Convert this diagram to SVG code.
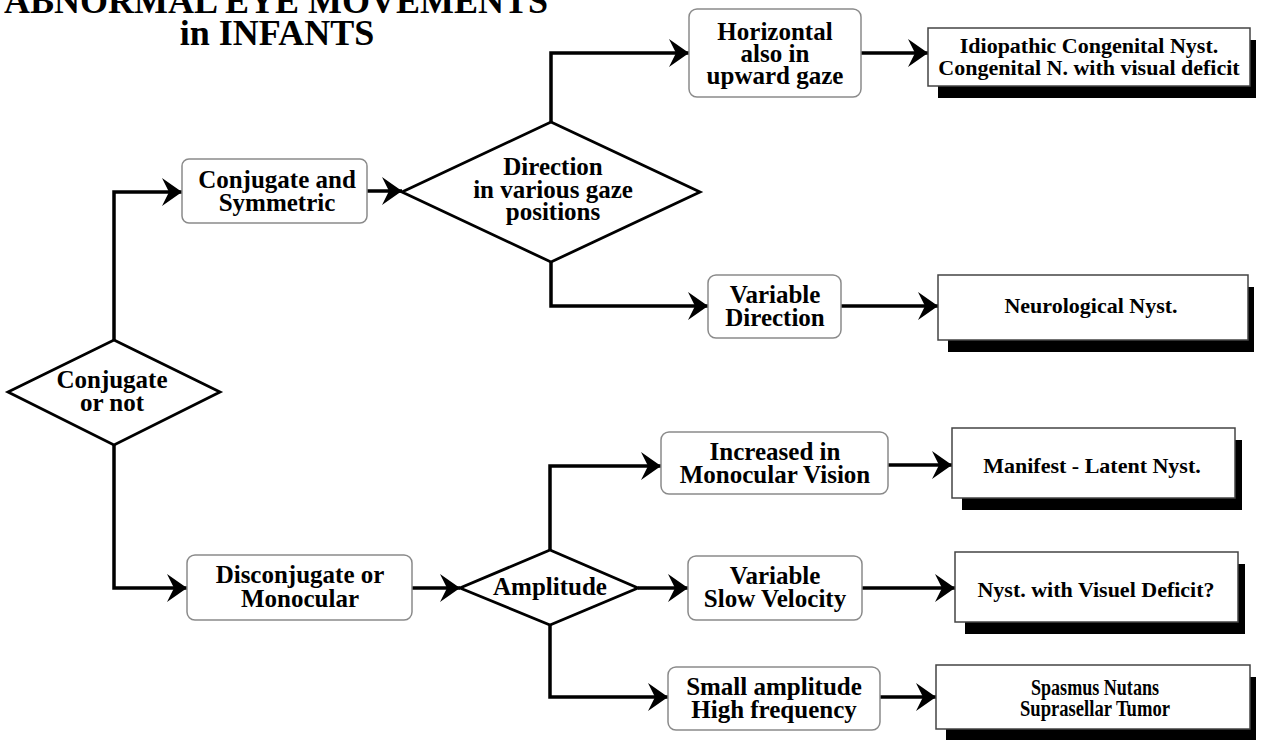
<svg xmlns="http://www.w3.org/2000/svg" width="1267" height="740" viewBox="0 0 1267 740">
<style>
text{font-family:"Liberation Serif","Times New Roman",serif;font-weight:bold;fill:#000;text-anchor:middle}
.t{font-size:36px}
.n{font-size:25px}
.r{font-size:22px}
.rb{fill:#fff;stroke:#8a8a8a;stroke-width:1.5}
.dm{fill:#fff;stroke:#000;stroke-width:2.8;stroke-linejoin:miter}
.res{fill:#fff;stroke:#444;stroke-width:1.5}
.sh{fill:#000}
.c{fill:none;stroke:#000;stroke-width:3.5;marker-end:url(#arr)}
</style>
<defs>
<marker id="arr" markerUnits="userSpaceOnUse" markerWidth="24" markerHeight="30" refX="20" refY="15" orient="auto" viewBox="0 0 24 30">
<path d="M0,1 L20,15 L0,29 L7,15 Z" fill="#000"/>
</marker>
</defs>
<rect width="1267" height="740" fill="#fff"/>
<g id="title">
<text class="t" x="276" y="13">ABNORMAL EYE MOVEMENTS</text>
<text class="t" x="277" y="45">in INFANTS</text>
</g>
<g id="connectors">
<path class="c" d="M114,340 V192 H182"/>
<path class="c" d="M114,445 V588 H187"/>
<path class="c" d="M367,191 H402"/>
<path class="c" d="M551,122 V53 H689"/>
<path class="c" d="M551,262 V306 H708"/>
<path class="c" d="M861,53 H928"/>
<path class="c" d="M841,306 H938"/>
<path class="c" d="M412,588 H460"/>
<path class="c" d="M550,550 V466 H661"/>
<path class="c" d="M638,588 H688"/>
<path class="c" d="M550,625 V697 H668"/>
<path class="c" d="M888,465 H952"/>
<path class="c" d="M862,588 H955"/>
<path class="c" d="M880,697 H936"/>
</g>
<g id="conjugate-or-not">
<polygon class="dm" points="114,340 220,392 114,445 8,392"/>
<text class="n" x="112" y="388">Conjugate</text>
<text class="n" x="112" y="411">or not</text>
</g>
<g id="conjugate-symmetric">
<rect class="rb" x="182" y="159" width="185" height="64" rx="7"/>
<text class="n" x="277" y="188">Conjugate and</text>
<text class="n" x="277" y="211">Symmetric</text>
</g>
<g id="direction">
<polygon class="dm" points="551,122 700,192 551,262 402,192"/>
<text class="n" x="553" y="175">Direction</text>
<text class="n" x="553" y="198">in various gaze</text>
<text class="n" x="553" y="220">positions</text>
</g>
<g id="horizontal">
<rect class="rb" x="689" y="9" width="172" height="88" rx="8"/>
<text class="n" x="775" y="40">Horizontal</text>
<text class="n" x="775" y="62">also in</text>
<text class="n" x="775" y="84">upward gaze</text>
</g>
<g id="idiopathic">
<rect class="sh" x="938" y="40" width="318" height="58"/>
<rect class="res" x="928" y="28" width="322" height="58"/>
<text class="r" x="1089" y="53">Idiopathic Congenital Nyst.</text>
<text class="r" x="1089" y="75">Congenital N. with visual deficit</text>
</g>
<g id="variable-direction">
<rect class="rb" x="708" y="275" width="133" height="63" rx="8"/>
<text class="n" x="775" y="303">Variable</text>
<text class="n" x="775" y="326">Direction</text>
</g>
<g id="neurological">
<rect class="sh" x="948" y="287" width="306" height="65"/>
<rect class="res" x="938" y="275" width="310" height="65"/>
<text class="r" x="1091" y="313">Neurological Nyst.</text>
</g>
<g id="disconjugate">
<rect class="rb" x="187" y="555" width="225" height="65" rx="8"/>
<text class="n" x="300" y="583">Disconjugate or</text>
<text class="n" x="300" y="607">Monocular</text>
</g>
<g id="amplitude">
<polygon class="dm" points="550,550 638,588 550,625 460,588"/>
<text class="n" x="550" y="595">Amplitude</text>
</g>
<g id="increased">
<rect class="rb" x="661" y="432" width="227" height="62" rx="8"/>
<text class="n" x="775" y="460">Increased in</text>
<text class="n" x="775" y="483">Monocular Vision</text>
</g>
<g id="manifest">
<rect class="sh" x="962" y="440" width="280" height="70"/>
<rect class="res" x="952" y="428" width="283" height="70"/>
<text class="r" x="1092" y="473">Manifest - Latent Nyst.</text>
</g>
<g id="slow-velocity">
<rect class="rb" x="688" y="556" width="174" height="64" rx="8"/>
<text class="n" x="775" y="584">Variable</text>
<text class="n" x="775" y="607">Slow Velocity</text>
</g>
<g id="visuel-deficit">
<rect class="sh" x="965" y="564" width="280" height="70"/>
<rect class="res" x="955" y="552" width="283" height="70"/>
<text class="r" x="1096" y="597">Nyst. with Visuel Deficit?</text>
</g>
<g id="small-amplitude">
<rect class="rb" x="668" y="667" width="212" height="63" rx="8"/>
<text class="n" x="774" y="695">Small amplitude</text>
<text class="n" x="774" y="718">High frequency</text>
</g>
<g id="spasmus">
<rect class="sh" x="946" y="677" width="310" height="64"/>
<rect class="res" x="936" y="665" width="314" height="64"/>
<text x="1095" y="695" font-size="23" textLength="128" lengthAdjust="spacingAndGlyphs">Spasmus Nutans</text>
<text x="1095" y="716" font-size="23" textLength="150" lengthAdjust="spacingAndGlyphs">Suprasellar Tumor</text>
</g>
</svg>
